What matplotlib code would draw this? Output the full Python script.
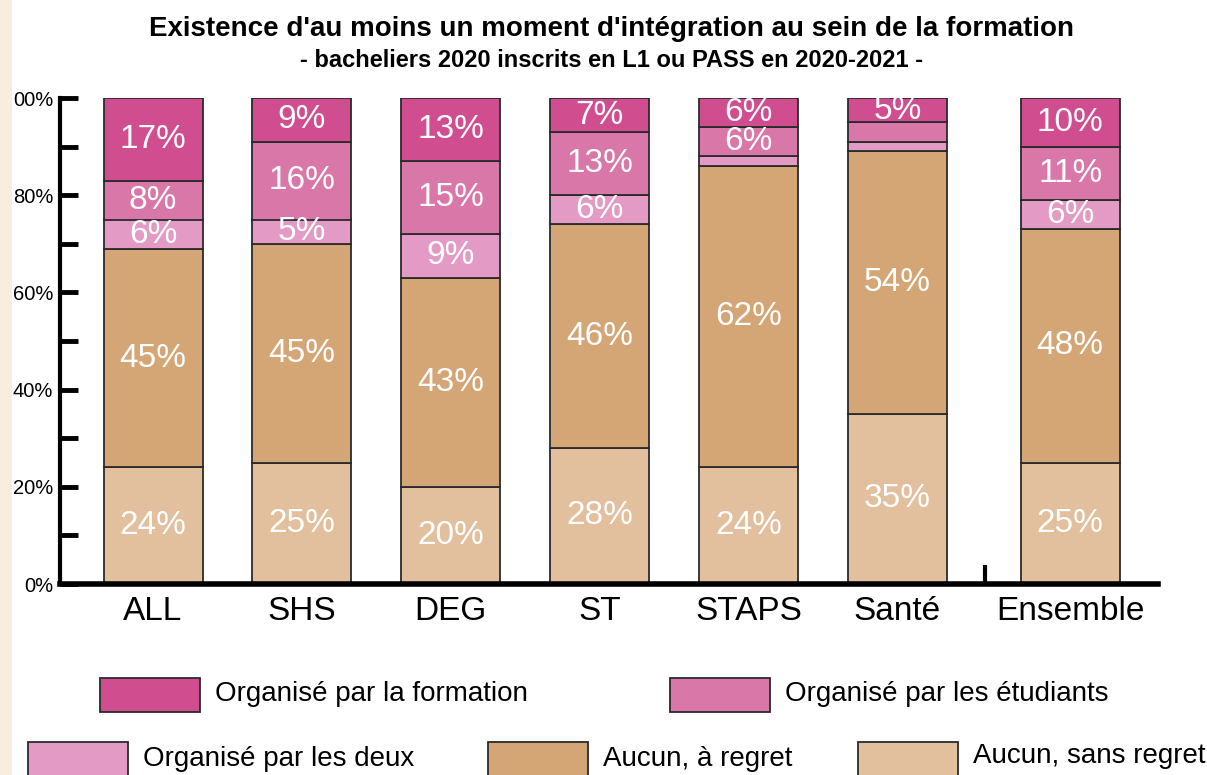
import matplotlib.pyplot as plt
from matplotlib.patches import Rectangle

plt.rcParams['font.family'] = ['Liberation Sans', 'DejaVu Sans']

# categories and positions on the x axis
groupes = ['ALL', 'SHS', 'DEG', 'ST', 'STAPS', 'Santé', 'Ensemble']
pos = [0, 1, 2, 3, 4, 5, 6.16]

# shares (%) from bottom to top
sans_regret = [24, 25, 20, 28, 24, 35, 25]
a_regret = [45, 45, 43, 46, 62, 54, 48]
par_deux = [6, 5, 9, 6, 2, 2, 6]
par_etudiants = [8, 16, 15, 13, 6, 4, 11]
par_formation = [17, 9, 13, 7, 6, 5, 10]

series = [
    ('Aucun, sans regret', sans_regret, '#E2BF9D'),
    ('Aucun, à regret', a_regret, '#D4A676'),
    ('Organisé par les deux', par_deux, '#E39BC5'),
    ('Organisé par les étudiants', par_etudiants, '#D977A8'),
    ('Organisé par la formation', par_formation, '#D04E90'),
]

W, H = 1207, 775
fig = plt.figure(figsize=(W / 100, H / 100), dpi=100)
fig.patch.set_facecolor('white')
fig.add_artist(Rectangle((0, 0), 12 / W, 1, transform=fig.transFigure,
                         facecolor='#F8EEDF', edgecolor='none'))

ax = fig.add_axes([60 / W, 191 / H, 1098 / W, 486 / H])
ax.set_xlim(-0.625, 6.75)
ax.set_ylim(0, 100)

bottom = [0] * len(groupes)
for nom, vals, col in series:
    ax.bar(pos, vals, 0.665, bottom=bottom, color=col, edgecolor='#2a2a2a',
           linewidth=1.3, zorder=2)
    for x, b, v in zip(pos, bottom, vals):
        if v >= 5:
            ax.text(x, b + v / 2, f'{v}%', ha='center', va='center',
                    color='white', fontsize=24, zorder=3)
    bottom = [b + v for b, v in zip(bottom, vals)]

# small separator before "Ensemble"
ax.plot([5.59, 5.59], [0, 4], color='black', lw=3, zorder=3,
        solid_capstyle='butt')

for s in ['top', 'right']:
    ax.spines[s].set_visible(False)
ax.spines['left'].set_linewidth(3)
ax.spines['bottom'].set_linewidth(4)
ax.spines['left'].set_zorder(4)
ax.spines['bottom'].set_zorder(4)

ax.set_yticks([0, 20, 40, 60, 80, 100])
ax.set_yticklabels(['0%', '20%', '40%', '60%', '80%', '00%'])
ax.set_yticks([10, 30, 50, 70, 90], minor=True)
ax.tick_params(axis='y', which='both', direction='in', length=13, width=3.5,
               labelsize=14.5, pad=5)
ax.set_xticks(pos)
ax.set_xticklabels(groupes)
ax.tick_params(axis='x', length=0, labelsize=24, pad=9)

fig.text(0.507, 0.963, "Existence d'au moins un moment d'intégration au sein de la formation",
         ha='center', va='center', fontsize=20, fontweight='bold')
fig.text(0.507, 0.922, '- bacheliers 2020 inscrits en L1 ou PASS en 2020-2021 -',
         ha='center', va='center', fontsize=17, fontweight='bold')

# legend drawn by hand: (label, colour, patch x, patch y top, text y centre)
leg = [
    ('Organisé par la formation', '#D04E90', 100, 678, 694),
    ('Organisé par les étudiants', '#D977A8', 670, 678, 694),
    ('Organisé par les deux', '#E39BC5', 28, 742, 759),
    ('Aucun, à regret', '#D4A676', 488, 742, 759),
    ('Aucun, sans regret', '#E2BF9D', 858, 742, 756),
]
for lab, col, px, py, ty in leg:
    fig.add_artist(Rectangle((px / W, 1 - (py + 34) / H), 100 / W, 34 / H,
                             transform=fig.transFigure, facecolor=col,
                             edgecolor='#2a2a2a', linewidth=1.3))
    fig.text((px + 115) / W, 1 - ty / H, lab, ha='left', va='center',
             fontsize=20)

fig.savefig('out.png', dpi=100)
